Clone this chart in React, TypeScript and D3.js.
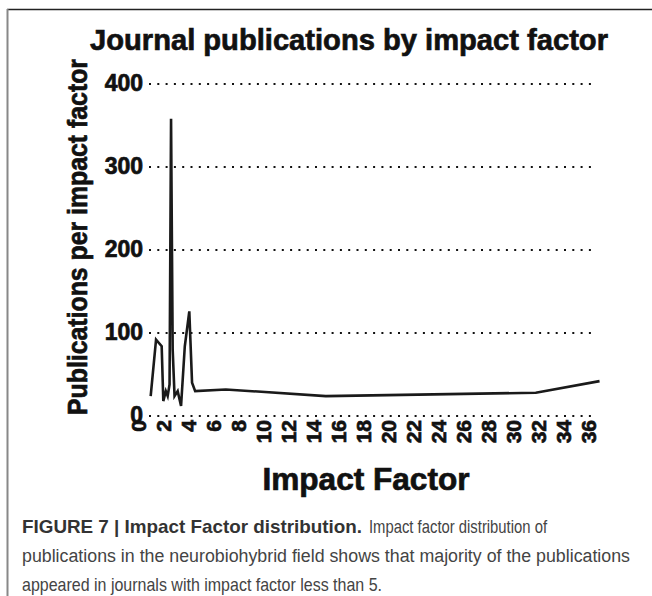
import React from "react";
import * as d3 from "d3";

const impactFactor = [0.99, 1.42, 1.87, 2.0, 2.2, 2.35, 2.5, 2.62, 2.75, 2.9, 3.15, 3.42, 3.72, 4.08, 4.3, 4.55, 7.0, 15.0, 31.8, 36.9];
const publications = [24, 92, 84, 18, 30, 24, 38, 358, 80, 24, 30, 12, 84, 126, 40, 30, 32, 24, 28, 42];
const yTicks = [0, 100, 200, 300, 400];
const xTicks = d3.range(0, 37, 2);

const title = "Journal publications by impact factor";
const yTitle = "Publications per impact factor";
const xTitle = "Impact Factor";
const captionBold = "FIGURE 7 | Impact Factor distribution.";
const captionLines = [
  "Impact factor distribution of",
  "publications in the neurobiohybrid field shows that majority of the publications",
  "appeared in journals with impact factor less than 5.",
];

export default function App() {
  const W = 652, H = 596;
  const x = d3.scaleLinear().domain([0, 36]).range([138.3, 588.3]);
  const y = d3.scaleLinear().domain([0, 400]).range([416, 84]);
  const pts = impactFactor.map((v, i) => [v, publications[i]] as [number, number]);
  const line = d3.line<[number, number]>().x((d) => x(d[0])).y((d) => y(d[1]));
  const font = "'Liberation Sans', Arial, Helvetica, sans-serif";
  const heavy = { stroke: "#111", strokeWidth: 0.7 };
  return (
    <svg width={W} height={H} style={{ position: "absolute", left: 0, top: 0, background: "#fff" }} fontFamily={font}>
      <line x1={7} y1={9.5} x2={W} y2={9.5} stroke="#222" strokeWidth={1.5} />
      <line x1={7.5} y1={9} x2={7.5} y2={H} stroke="#888" strokeWidth={2} />
      <text x={349} y={50} textAnchor="middle" fontWeight="bold" fontSize={30} fill="#111" {...heavy} textLength={518} lengthAdjust="spacingAndGlyphs">{title}</text>
      {yTicks.map((t) => (
        <g key={t}>
          <line x1={149} x2={597} y1={y(t)} y2={y(t)} stroke="#111" strokeWidth={2} strokeDasharray="2,6.3" />
          <text x={143} y={y(t) - 1} dy="0.35em" textAnchor="end" fontWeight="bold" fontSize={23} fill="#111" {...heavy}>{t}</text>
        </g>
      ))}
      {xTicks.map((t) => (
        <text key={t} transform={`translate(${x(t)},420) rotate(-90)`} textAnchor="end" dy="0.36em" fontWeight="bold" fontSize={21} fill="#111" {...heavy}>{t}</text>
      ))}
      <path d={line(pts) || ""} fill="none" stroke="#1a1a1a" strokeWidth={2.6} strokeLinejoin="miter" />
      <text transform={`translate(87,237) rotate(-90)`} textAnchor="middle" fontWeight="bold" fontSize={28} fill="#111" {...heavy} textLength={356} lengthAdjust="spacingAndGlyphs">{yTitle}</text>
      <text x={366} y={490} textAnchor="middle" fontWeight="bold" fontSize={31} fill="#111" {...heavy} textLength={207} lengthAdjust="spacingAndGlyphs">{xTitle}</text>
      <text x={22} y={533} fontWeight="bold" fontSize={19} fill="#333" textLength={340} lengthAdjust="spacingAndGlyphs">{captionBold}</text>
      <text x={369} y={533} fontSize={19} fill="#444" textLength={178} lengthAdjust="spacingAndGlyphs">{captionLines[0]}</text>
      <g transform="translate(22,562) scale(1,1.12)">
        <text x={0} y={0} fontSize={17} fill="#444" textLength={608} lengthAdjust="spacingAndGlyphs">{captionLines[1]}</text>
      </g>
      <text x={22} y={591} fontSize={19} fill="#444" textLength={360} lengthAdjust="spacingAndGlyphs">{captionLines[2]}</text>
    </svg>
  );
}
